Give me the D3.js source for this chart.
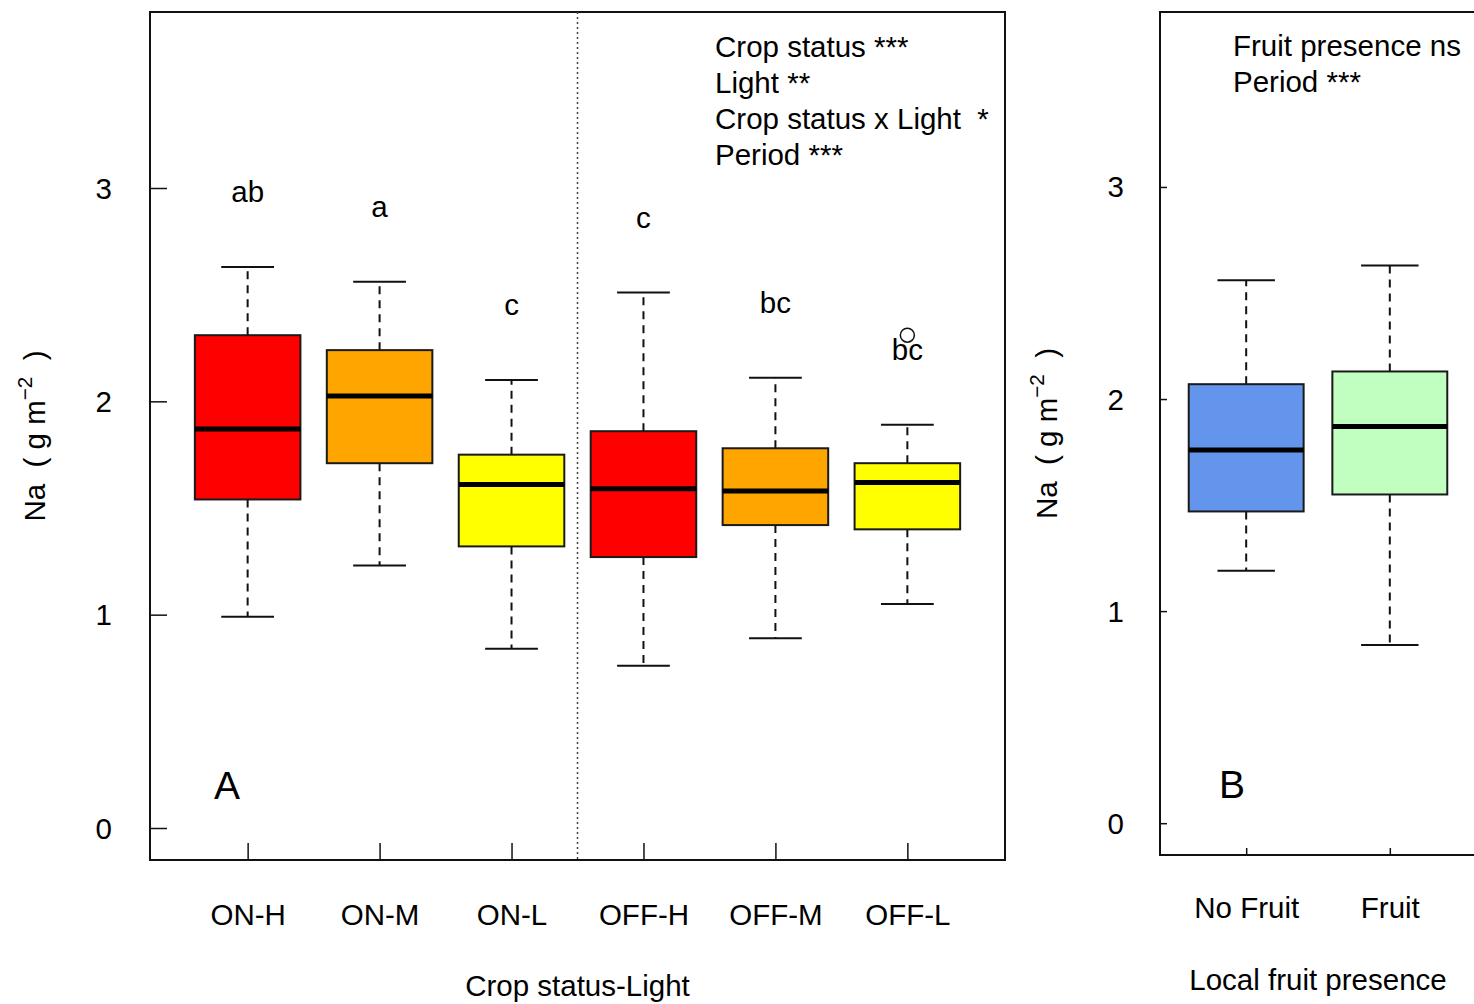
<!DOCTYPE html>
<html>
<head>
<meta charset="utf-8">
<script src="https://cdn.jsdelivr.net/npm/d3@7"></script>
<style>
  body { margin: 0; background: #fff; }
  svg { display: block; font-family: "Liberation Sans", Arial, sans-serif; }
  text { white-space: pre; }
</style>
</head>
<body>
<div id="chart"></div>
<script>
// Panel A data: Crop status x Light
const groupsA = ["ON-H", "ON-M", "ON-L", "OFF-H", "OFF-M", "OFF-L"];
const lowA  = [0.99, 1.23, 0.84, 0.76, 0.89, 1.05];
const q1A   = [1.54, 1.71, 1.32, 1.27, 1.42, 1.40];
const medA  = [1.87, 2.025, 1.61, 1.59, 1.58, 1.62];
const q3A   = [2.31, 2.24, 1.75, 1.86, 1.78, 1.71];
const highA = [2.63, 2.56, 2.10, 2.51, 2.11, 1.89];
const lettersA = ["ab", "a", "c", "c", "bc", "bc"];
const outlierGroupsA = ["OFF-L"];
const outlierValuesA = [2.31];
const statsA = ["Crop status ***", "Light **", "Crop status x Light  *", "Period ***"];

// Panel B data: local fruit presence
const groupsB = ["No Fruit", "Fruit"];
const lowB  = [1.19, 0.84];
const q1B   = [1.47, 1.55];
const medB  = [1.76, 1.87];
const q3B   = [2.07, 2.13];
const highB = [2.56, 2.63];
const statsB = ["Fruit presence ns", "Period ***"];

const yTicks = [0, 1, 2, 3];

const W = 1474, H = 1004;
const FS = 29.5;

const svg = d3.select("#chart").append("svg")
  .attr("width", W)
  .attr("height", H);

const colorA = d3.scaleOrdinal().domain(groupsA)
  .range(["#FF0000", "#FFA500", "#FFFF00", "#FF0000", "#FFA500", "#FFFF00"]);
const colorB = d3.scaleOrdinal().domain(groupsB)
  .range(["#6495ED", "#C1FFC1"]);

function drawPanel(opt) {
  const g = svg.append("g");
  const x = d3.scaleLinear().domain(opt.xDomain).range([opt.left, opt.right]);
  const y = d3.scaleLinear().domain([-0.15, 3.825]).range([opt.bottom, opt.top]);

  const boxes = opt.groups.map((name, i) => ({
    name, pos: i + 1,
    low: opt.low[i], q1: opt.q1[i], med: opt.med[i], q3: opt.q3[i], high: opt.high[i]
  }));
  const bw = x(1.4) - x(1);   // half box width
  const cw = x(1.2) - x(1);   // half cap width

  // whiskers
  g.selectAll(".whisk-up").data(boxes).join("line")
    .attr("x1", d => x(d.pos)).attr("x2", d => x(d.pos))
    .attr("y1", d => y(d.q3)).attr("y2", d => y(d.high))
    .attr("stroke", "#111").attr("stroke-width", 2).attr("stroke-dasharray", "8,6");
  g.selectAll(".whisk-down").data(boxes).join("line")
    .attr("x1", d => x(d.pos)).attr("x2", d => x(d.pos))
    .attr("y1", d => y(d.q1)).attr("y2", d => y(d.low))
    .attr("stroke", "#111").attr("stroke-width", 2).attr("stroke-dasharray", "8,6");
  ["high", "low"].forEach(k => {
    g.selectAll(".cap-" + k).data(boxes).join("line")
      .attr("x1", d => x(d.pos) - cw).attr("x2", d => x(d.pos) + cw)
      .attr("y1", d => y(d[k])).attr("y2", d => y(d[k]))
      .attr("stroke", "#111").attr("stroke-width", 2);
  });

  // boxes
  g.selectAll(".box").data(boxes).join("rect")
    .attr("x", d => x(d.pos) - bw)
    .attr("width", 2 * bw)
    .attr("y", d => y(d.q3))
    .attr("height", d => y(d.q1) - y(d.q3))
    .attr("fill", d => opt.color(d.name))
    .attr("stroke", "#1a1a1a").attr("stroke-width", 2);
  g.selectAll(".med").data(boxes).join("line")
    .attr("x1", d => x(d.pos) - bw).attr("x2", d => x(d.pos) + bw)
    .attr("y1", d => y(d.med)).attr("y2", d => y(d.med))
    .attr("stroke", "#000").attr("stroke-width", 5);

  // y axis, ticks inward
  const ya = g.append("g").attr("transform", `translate(${opt.left},0)`)
    .call(d3.axisLeft(y).tickValues(yTicks).tickFormat(d3.format("d"))
      .tickSize(-opt.tick).tickPadding(opt.labelPad));
  ya.select(".domain").remove();
  ya.selectAll("line").attr("stroke", "#111").attr("stroke-width", 1.5);
  ya.selectAll("text").attr("font-size", FS).attr("font-family", "Liberation Sans, Arial")
    .attr("fill", "#000").attr("dy", "0.34em");

  // x axis, ticks inward
  const xa = g.append("g").attr("transform", `translate(0,${opt.bottom})`)
    .call(d3.axisBottom(x).tickValues(boxes.map(d => d.pos))
      .tickFormat((d, i) => opt.groups[i])
      .tickSize(-opt.tick).tickPadding(opt.xLabelPad));
  xa.select(".domain").remove();
  xa.selectAll("line").attr("stroke", "#111").attr("stroke-width", 1.5);
  xa.selectAll("text").attr("font-size", FS).attr("font-family", "Liberation Sans, Arial")
    .attr("fill", "#000").attr("dy", "0");

  // frame
  if (opt.fullFrame) {
    g.append("rect")
      .attr("x", opt.left).attr("y", opt.top)
      .attr("width", opt.right - opt.left).attr("height", opt.bottom - opt.top)
      .attr("fill", "none").attr("stroke", "#111").attr("stroke-width", 2);
  } else {
    g.append("path")
      .attr("d", `M${opt.right + 5},${opt.top}H${opt.left}V${opt.bottom}H${opt.right + 5}`)
      .attr("fill", "none").attr("stroke", "#111").attr("stroke-width", 2);
  }

  // y label: Na (g m^-2)
  const yl = g.append("text")
    .attr("transform", `translate(${opt.yLabelX},${(opt.top + opt.bottom) / 2}) rotate(-90)`)
    .attr("text-anchor", "middle")
    .attr("font-size", FS);
  yl.append("tspan").text("Na  ( g m");
  yl.append("tspan").attr("font-size", FS * 0.7).attr("dy", -FS * 0.45).text("−2");
  yl.append("tspan").attr("dy", FS * 0.45).text("  )");

  // x title
  g.append("text")
    .attr("x", (opt.left + opt.right) / 2)
    .attr("y", opt.bottom + opt.titlePad)
    .attr("text-anchor", "middle")
    .attr("font-size", FS)
    .text(opt.title);

  // panel letter
  g.append("text")
    .attr("x", opt.panelX).attr("y", opt.panelY)
    .attr("font-size", 39)
    .text(opt.panel);

  // stats text
  g.selectAll(".stat").data(opt.stats).join("text")
    .attr("x", opt.statX)
    .attr("y", (d, i) => opt.statY + i * 36)
    .attr("font-size", FS)
    .text(d => d);

  return { g, x, y, boxes };
}

// Panel A
const A = drawPanel({
  groups: groupsA, low: lowA, q1: q1A, med: medA, q3: q3A, high: highA,
  color: colorA, xDomain: [0.26, 6.74],
  left: 150, right: 1005, top: 12, bottom: 860,
  tick: 17, labelPad: 38, xLabelPad: 65, titlePad: 136,
  yLabelX: 45, title: "Crop status-Light", panel: "A", panelX: 214, panelY: 799,
  stats: statsA, statX: 715, statY: 57, fullFrame: true
});

// separator between ON and OFF
A.g.append("line")
  .attr("x1", A.x(3.5)).attr("x2", A.x(3.5))
  .attr("y1", 12).attr("y2", 860)
  .attr("stroke", "#444").attr("stroke-width", 1.5).attr("stroke-dasharray", "2,3");

// significance letters
A.g.selectAll(".letter").data(A.boxes).join("text")
  .attr("x", d => A.x(d.pos))
  .attr("y", d => A.y(d.high) - 65)
  .attr("text-anchor", "middle")
  .attr("font-size", FS)
  .text((d, i) => lettersA[i]);

// outliers
A.g.selectAll(".outlier").data(outlierValuesA).join("circle")
  .attr("cx", (d, i) => A.x(groupsA.indexOf(outlierGroupsA[i]) + 1))
  .attr("cy", d => A.y(d))
  .attr("r", 7)
  .attr("fill", "none").attr("stroke", "#111").attr("stroke-width", 1.5);

// Panel B
drawPanel({
  groups: groupsB, low: lowB, q1: q1B, med: medB, q3: q3B, high: highB,
  color: colorB, xDomain: [0.4, 2.6],
  left: 1160, right: 1476, top: 12, bottom: 855,
  tick: 7, labelPad: 36, xLabelPad: 63, titlePad: 135,
  yLabelX: 1057, title: "Local fruit presence", panel: "B", panelX: 1219, panelY: 798,
  stats: statsB, statX: 1233, statY: 56, fullFrame: false
});
</script>
</body>
</html>
